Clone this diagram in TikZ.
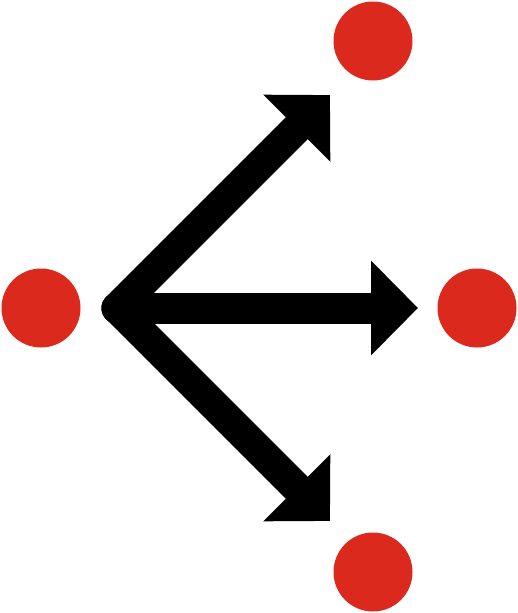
\documentclass[tikz,border=0pt]{standalone}
\usetikzlibrary{arrows.meta}
\definecolor{dotred}{RGB}{220,41,30}
\tikzset{
  dot/.style={circle,fill=dotred,draw=none,minimum size=79pt,inner sep=0pt},
  bigarrow/.style={line width=31pt,line cap=round,-{Triangle[width=92pt,length=47pt]}}
}
\begin{document}
\begin{tikzpicture}[x=1pt,y=-1pt]
\useasboundingbox (0,0) rectangle (518,613);
\node[dot] (left) at (41,308) {};
\node[dot] (right) at (477,308) {};
\node[dot] (top) at (373,41) {};
\node[dot] (bottom) at (373,572) {};
\coordinate (v) at (117,308);
\coordinate (tt) at (330,95);
\coordinate (tr) at (418,308);
\coordinate (tb) at (330,521);
\draw[bigarrow] (v) -- (tt);
\draw[bigarrow] (v) -- (tr);
\draw[bigarrow] (v) -- (tb);
\end{tikzpicture}
\end{document}
